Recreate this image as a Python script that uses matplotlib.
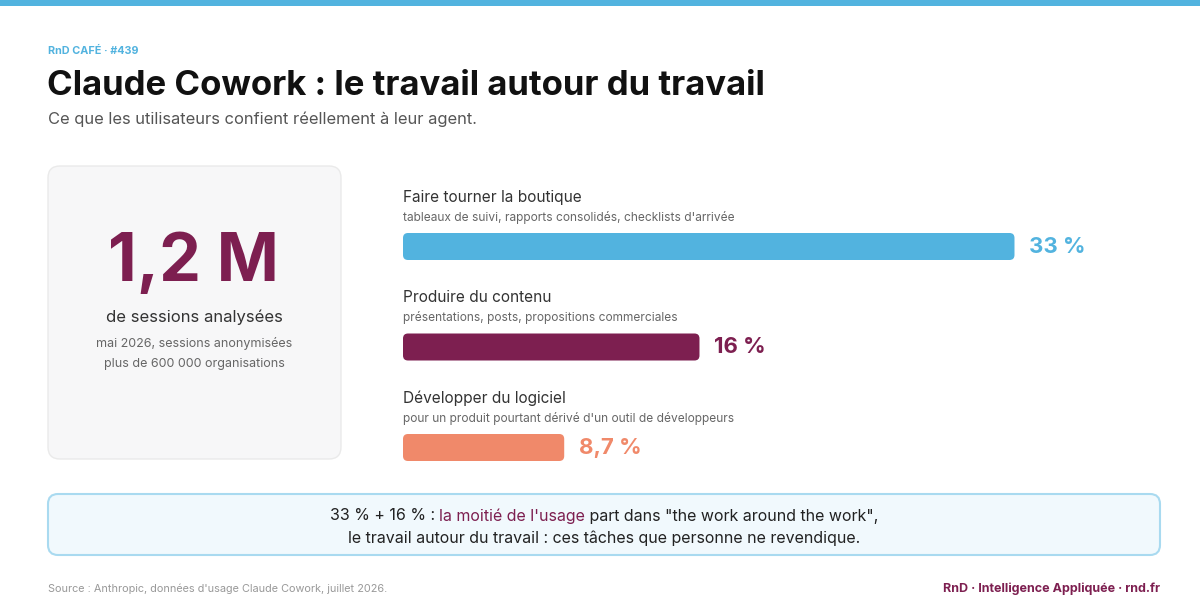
import matplotlib
matplotlib.use("Agg")
import matplotlib.pyplot as plt
from matplotlib.patches import FancyBboxPatch, Rectangle

# ---------------- data ----------------
categories = ["Faire tourner la boutique", "Produire du contenu", "Développer du logiciel"]
descriptions = ["tableaux de suivi, rapports consolidés, checklists d'arrivée",
                "présentations, posts, propositions commerciales",
                "pour un produit pourtant dérivé d'un outil de développeurs"]
shares = [33, 16, 8.7]
share_labels = ["33 %", "16 %", "8,7 %"]
bar_colors = ["#52B3DF", "#7D1F50", "#F0896A"]

kicker = "RnD CAFÉ · #439"
title = "Claude Cowork : le travail autour du travail"
subtitle = "Ce que les utilisateurs confient réellement à leur agent."
kpi_value = "1,2 M"
kpi_label = "de sessions analysées"
kpi_notes = ["mai 2026, sessions anonymisées", "plus de 600 000 organisations"]
callout_l1 = ["33 % + 16 % : ", "la moitié de l'usage", " part dans \"the work around the work\","]
callout_l2 = "le travail autour du travail : ces tâches que personne ne revendique."
source = "Source : Anthropic, données d'usage Claude Cowork, juillet 2026."
brand = "RnD · Intelligence Appliquée · rnd.fr"

BLUE = "#52B3DF"
MAROON = "#7D1F50"
FONT = ["Inter", "DejaVu Sans"]

plt.rcParams['font.family'] = FONT

W, H = 1200, 611
fig = plt.figure(figsize=(W / 100, H / 100), dpi=100, facecolor="white")

bg = fig.add_axes([0, 0, 1, 1])
bg.set_xlim(0, W)
bg.set_ylim(H, 0)
bg.axis("off")

# top strip
bg.add_patch(Rectangle((0, 0), W, 6, facecolor=BLUE, edgecolor="none"))

# header
bg.text(48, 51, kicker, fontsize=7.8, fontweight="bold", color=BLUE, va="center", ha="left")
bg.text(47, 86, title, fontsize=25, fontweight="bold", color="#111111", va="center", ha="left")
bg.text(48, 119, subtitle, fontsize=11.9, color="#555555", va="center", ha="left")

# KPI card
bg.add_patch(FancyBboxPatch((48, 166), 293, 293, boxstyle="round,pad=0,rounding_size=12",
                            facecolor="#F7F7F8", edgecolor="#EAEAEA", linewidth=1))
bg.text(193, 263, kpi_value, fontsize=48, fontweight="bold", color=MAROON, va="center", ha="center")
bg.text(194, 317, kpi_label, fontsize=12, color="#333333", va="center", ha="center")
bg.text(194, 344, kpi_notes[0], fontsize=9, color="#666666", va="center", ha="center")
bg.text(194, 364, kpi_notes[1], fontsize=9, color="#666666", va="center", ha="center")

# callout box
bg.add_patch(FancyBboxPatch((48, 494), 1112, 61, boxstyle="round,pad=0,rounding_size=10",
                            facecolor="#F1F9FD", edgecolor="#A9DAF0", linewidth=1.5))

# footer
bg.text(48, 589, source, fontsize=7.85, color="#999999", va="center", ha="left")
bg.text(1160, 589, brand, fontsize=9, fontweight="bold", color=MAROON, va="center", ha="right")

# ---------------- bars ----------------
x0_px = 403
scale = 18.53  # px per %
xmax = 40
row_px = 100.5
top_px = 246.5 - row_px / 2
ax = fig.add_axes([x0_px / W, 1 - (top_px + 3 * row_px) / H, xmax * scale / W, 3 * row_px / H])
ax.set_xlim(0, xmax)
ax.set_ylim(2.5, -0.5)
ax.axis("off")
ax.patch.set_alpha(0)

bar_h = 27 / row_px
ypos = list(range(len(categories)))
bars = ax.barh(ypos, shares, height=bar_h, color=bar_colors, edgecolor="none")
radius_px = 5
for b, c in zip(bars, bar_colors):
    b.set_visible(False)
    rp = FancyBboxPatch((b.get_x(), b.get_y()), b.get_width(), b.get_height(),
                        boxstyle=f"round,pad=0,rounding_size={radius_px / scale}",
                        mutation_aspect=scale / row_px,
                        facecolor=c, edgecolor="none", clip_on=False)
    ax.add_patch(rp)

for i, (cat, desc, v, lab, c) in enumerate(zip(categories, descriptions, shares, share_labels, bar_colors)):
    ax.annotate(cat, (0, i), xytext=(0, 49.5), textcoords="offset pixels",
                fontsize=11.1, color="#333333", va="center", ha="left")
    ax.annotate(desc, (0, i), xytext=(0, 29.5), textcoords="offset pixels",
                fontsize=8.6, color="#666666", va="center", ha="left")
    ax.annotate(lab, (v, i), xytext=(15, 0), textcoords="offset pixels",
                fontsize=16, fontweight="bold", color=c, va="center", ha="left")

# ---------------- callout text (mixed colour) ----------------
fig.canvas.draw()
renderer = fig.canvas.get_renderer()
cols = ["#222222", MAROON, "#222222"]
tmp = [bg.text(0, 516, s, fontsize=11.5, va="center", ha="left") for s in callout_l1]
widths = []
for t in tmp:
    bb = t.get_window_extent(renderer=renderer)
    widths.append(bb.width)
    t.remove()
total = sum(widths)
x = 604 - total / 2
for s, w, c in zip(callout_l1, widths, cols):
    bg.text(x, 516, s, fontsize=11.5, color=c, va="center", ha="left")
    x += w
bg.text(604, 538, callout_l2, fontsize=11.5, color="#222222", va="center", ha="center")

fig.savefig("out.png", dpi=100, facecolor="white")
